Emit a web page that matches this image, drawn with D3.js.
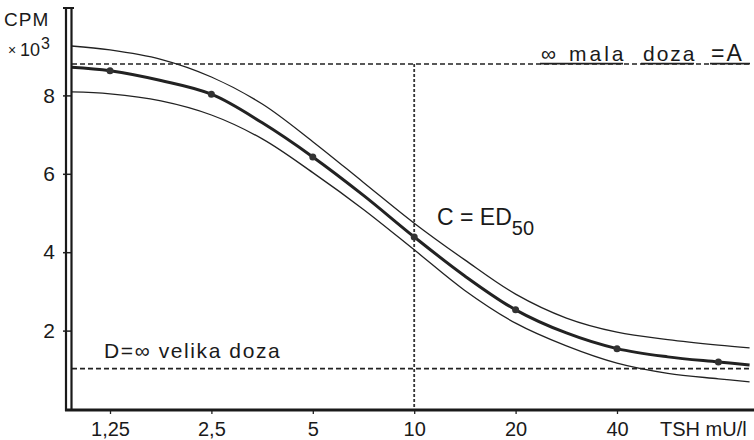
<!DOCTYPE html>
<html><head><meta charset="utf-8">
<script src="https://cdn.jsdelivr.net/npm/d3@7"></script>
<style>
html,body{margin:0;padding:0;background:#fff;}
svg text{font-family:"Liberation Sans",sans-serif;fill:#1a1a1a;}
</style></head>
<body>
<svg id="c" width="754" height="440"></svg>
<script>
// ---- data ----
const doses      = [0.96, 1.25, 1.77, 2.5, 3.54, 5, 7.07, 10, 14.1, 20, 28.3, 40, 56.6, 80, 99];
const meanCurve  = [8.72, 8.63, 8.38, 8.03, 7.30, 6.43, 5.45, 4.39, 3.40, 2.53, 1.94, 1.54, 1.33, 1.20, 1.12];
const upperCurve = [9.26, 9.16, 8.92, 8.47, 7.78, 6.82, 5.78, 4.74, 3.81, 2.93, 2.32, 1.96, 1.77, 1.63, 1.56];
const lowerCurve = [8.09, 8.04, 7.86, 7.50, 6.89, 6.03, 5.09, 4.06, 3.03, 2.19, 1.61, 1.17, 0.91, 0.77, 0.69];
const pointDoses  = [1.25, 2.5, 5, 10, 20, 40, 80];
const pointValues = [8.63, 8.03, 6.43, 4.39, 2.53, 1.54, 1.20];
const xTicks = [1.25, 2.5, 5, 10, 20, 40];
const xTickLabels = ["1,25", "2,5", "5", "10", "20", "40"];
const yTicks = [2, 4, 6, 8];
const valueA = 8.8;   // ∞ mala doza
const valueD = 1.03;  // ∞ velika doza
const ed50Dose = 10;

const svg = d3.select("#c");
const x = d3.scaleLog().base(2).domain([1.25, 40]).range([110, 617]);
const y = d3.scaleLinear().domain([0, 8]).range([409, 95.4]);
const axisX = 72, xEnd = 750, axisY = 410;

// reference lines
svg.append("line").attr("x1", axisX).attr("x2", xEnd).attr("y1", y(valueA)).attr("y2", y(valueA))
  .attr("stroke", "#222").attr("stroke-width", 1.6).attr("stroke-dasharray", "5,3");
svg.append("line").attr("x1", axisX).attr("x2", xEnd).attr("y1", y(valueD)).attr("y2", y(valueD))
  .attr("stroke", "#222").attr("stroke-width", 1.6).attr("stroke-dasharray", "5,3");
svg.append("line").attr("x1", x(ed50Dose)).attr("x2", x(ed50Dose)).attr("y1", y(valueA)).attr("y2", axisY)
  .attr("stroke", "#333").attr("stroke-width", 1.8).attr("stroke-dasharray", "3,2");

// curves
const line = (vals) => d3.line().x((d, i) => x(doses[i])).y(d => y(d)).curve(d3.curveCatmullRom.alpha(0.5))(vals);
svg.append("path").attr("d", line(upperCurve)).attr("fill", "none").attr("stroke", "#222").attr("stroke-width", 1.3);
svg.append("path").attr("d", line(lowerCurve)).attr("fill", "none").attr("stroke", "#222").attr("stroke-width", 1.3);
svg.append("path").attr("d", line(meanCurve)).attr("fill", "none").attr("stroke", "#222").attr("stroke-width", 3);
svg.selectAll("circle.pt").data(pointDoses).join("circle").attr("class", "pt")
  .attr("cx", d => x(d)).attr("cy", (d, i) => y(pointValues[i])).attr("r", 3.5).attr("fill", "#333");

// axes
const yAxis = d3.axisLeft(y).tickValues(yTicks).tickSize(9).tickPadding(8).tickFormat(d3.format("d"));
const gy = svg.append("g").attr("transform", `translate(${axisX},0)`).call(yAxis);
gy.select(".domain").remove();
gy.selectAll(".tick line").attr("stroke", "#222").attr("stroke-width", 1.5);
gy.selectAll(".tick text").attr("font-size", 21).attr("fill", "#1a1a1a");

const xAxis = d3.axisBottom(x).tickValues(xTicks).tickSize(4).tickPadding(8)
  .tickFormat((d, i) => xTickLabels[i]);
const gx = svg.append("g").attr("transform", `translate(0,${axisY})`).call(xAxis);
gx.select(".domain").remove();
gx.selectAll(".tick line").attr("stroke", "#222").attr("stroke-width", 1.3);
gx.selectAll(".tick text").attr("font-size", 20).attr("fill", "#1a1a1a");

// double y-axis line and x-axis line
svg.append("line").attr("x1", 66).attr("x2", 66).attr("y1", 8).attr("y2", 411).attr("stroke", "#1a1a1a").attr("stroke-width", 2.2);
svg.append("line").attr("x1", 71.5).attr("x2", 71.5).attr("y1", 8).attr("y2", 411).attr("stroke", "#1a1a1a").attr("stroke-width", 2.2);
svg.append("line").attr("x1", 63).attr("x2", 74).attr("y1", 8).attr("y2", 8).attr("stroke", "#1a1a1a").attr("stroke-width", 2);
svg.append("line").attr("x1", 65).attr("x2", 754).attr("y1", axisY).attr("y2", axisY).attr("stroke", "#1a1a1a").attr("stroke-width", 3);

// axis titles
svg.append("text").attr("x", 4).attr("y", 26).attr("font-size", 19).attr("letter-spacing", 1).text("CPM");
svg.append("text").attr("x", 8).attr("y", 55).attr("font-size", 14).text("×");
svg.append("text").attr("x", 20).attr("y", 56).attr("font-size", 18).text("10");
svg.append("text").attr("x", 41).attr("y", 49).attr("font-size", 16).text("3");
svg.append("text").attr("x", 660).attr("y", 436).attr("font-size", 20).text("TSH mU/l");

// annotations
svg.append("text").attr("x", 104).attr("y", 358).attr("font-size", 21).attr("letter-spacing", 1.6).text("D=∞ velika doza");
const c = svg.append("text").attr("x", 437).attr("y", 225).attr("font-size", 23);
c.append("tspan").text("C = ED");
c.append("tspan").attr("font-size", 20).attr("dy", 10).text("50");

const topY = y(valueA) - 3;
const ann = [
  {t: "∞", x0: 541, fs: 21},
  {t: "mala", x0: 569, ls: 3, fs: 21},
  {t: "doza", x0: 643, ls: 2, fs: 21},
  {t: "=A", x0: 711, ls: 2, fs: 23}
];
ann.forEach(a => {
  svg.append("text").attr("x", a.x0).attr("y", topY).attr("font-size", a.fs)
    .attr("letter-spacing", a.ls || 0).text(a.t);
});
[[540, 623], [641, 694], [710, 750]].forEach(s => {
  svg.append("line").attr("x1", s[0]).attr("x2", s[1]).attr("y1", y(valueA) - 0.5).attr("y2", y(valueA) - 0.5)
    .attr("stroke", "#222").attr("stroke-width", 1.8);
});
</script>
</body></html>
